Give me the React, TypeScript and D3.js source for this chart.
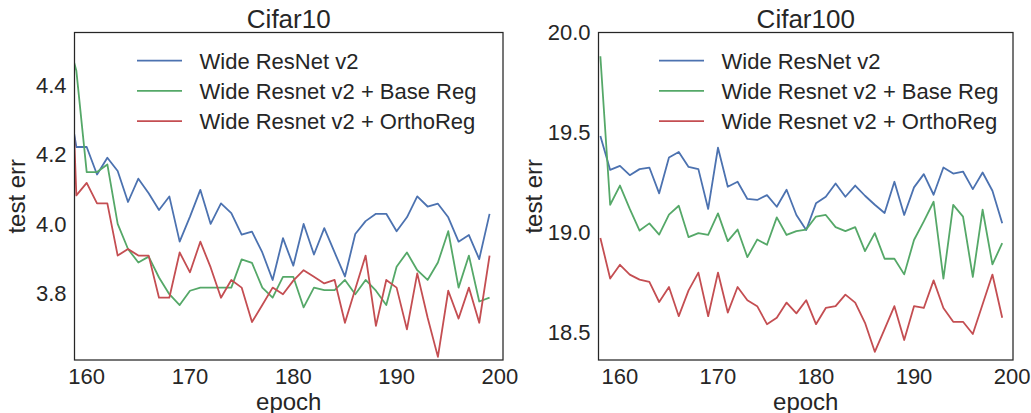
import React from 'react';
import * as d3 from 'd3';

// ---------- data ----------
const EPOCHS = [158, 159, 160, 161, 162, 163, 164, 165, 166, 167, 168, 169, 170, 171, 172, 173, 174, 175, 176, 177, 178, 179,
  180, 181, 182, 183, 184, 185, 186, 187, 188, 189, 190, 191, 192, 193, 194, 195, 196, 197, 198, 199];

const SERIES_NAMES = ['Wide ResNet v2', 'Wide Resnet v2 + Base Reg', 'Wide Resnet v2 + OrthoReg'];
const SERIES_COLORS = ['#4C72B0', '#55A868', '#C44E52'];

const C10_WRN = [4.40, 4.221, 4.221, 4.142, 4.190, 4.152, 4.063, 4.130, 4.088, 4.040, 4.079, 3.949, 4.021, 4.098, 4.000, 4.059,
  4.031, 3.969, 3.978, 3.918, 3.839, 3.959, 3.880, 4.000, 3.912, 3.988, 3.918, 3.849, 3.971, 4.008, 4.029, 4.029, 3.979, 4.019,
  4.079, 4.050, 4.058, 4.019, 3.949, 3.968, 3.899, 4.029];
const C10_BASE = [4.55, 4.44, 4.149, 4.149, 4.171, 4.000, 3.928, 3.889, 3.906, 3.846, 3.798, 3.767, 3.808, 3.817, 3.817, 3.817,
  3.817, 3.898, 3.888, 3.817, 3.788, 3.848, 3.848, 3.760, 3.817, 3.810, 3.810, 3.839, 3.798, 3.839, 3.808, 3.767, 3.877, 3.918,
  3.867, 3.839, 3.889, 3.979, 3.817, 3.909, 3.777, 3.788];
const C10_ORTHO = [4.88, 4.082, 4.118, 4.059, 4.059, 3.909, 3.928, 3.909, 3.909, 3.788, 3.788, 3.918, 3.861, 3.949, 3.875, 3.788,
  3.839, 3.817, 3.718, 3.767, 3.817, 3.798, 3.837, 3.867, 3.848, 3.829, 3.839, 3.716, 3.813, 3.909, 3.707, 3.839, 3.817, 3.697,
  3.858, 3.731, 3.618, 3.808, 3.728, 3.817, 3.716, 3.909];

const C100_WRN = [19.483, 19.313, 19.333, 19.287, 19.317, 19.325, 19.196, 19.375, 19.403, 19.328, 19.317, 19.118, 19.424, 19.229,
  19.254, 19.168, 19.163, 19.187, 19.129, 19.214, 19.088, 19.013, 19.146, 19.179, 19.245, 19.179, 19.235, 19.184, 19.139, 19.098,
  19.254, 19.088, 19.226, 19.292, 19.189, 19.325, 19.295, 19.305, 19.217, 19.300, 19.209, 19.046];
const C100_BASE = [19.881, 19.139, 19.235, 19.118, 19.010, 19.046, 18.990, 19.090, 19.134, 18.977, 18.997, 18.988, 19.096, 18.957,
  19.015, 18.877, 18.965, 18.939, 19.076, 18.988, 19.007, 19.015, 19.080, 19.088, 19.027, 19.007, 19.027, 18.907, 18.997, 18.869,
  18.869, 18.791, 18.963, 19.056, 19.154, 18.770, 19.138, 19.080, 18.778, 19.114, 18.841, 18.947];
const C100_ORTHO = [18.973, 18.770, 18.839, 18.790, 18.765, 18.753, 18.653, 18.728, 18.582, 18.711, 18.800, 18.582, 18.800, 18.600,
  18.728, 18.662, 18.632, 18.542, 18.574, 18.650, 18.596, 18.662, 18.542, 18.623, 18.632, 18.690, 18.650, 18.549, 18.404, 18.517,
  18.632, 18.463, 18.632, 18.623, 18.761, 18.623, 18.554, 18.554, 18.493, 18.642, 18.790, 18.574];

const X_TICKS = [160, 170, 180, 190, 200];
const C10_Y_TICKS = [3.8, 4.0, 4.2, 4.4];
const C100_Y_TICKS = [18.5, 19.0, 19.5, 20.0];

const TITLES = ['Cifar10', 'Cifar100'];
const X_LABEL = 'epoch';
const Y_LABEL = 'test err';

// ---------- styling ----------
const FONT = '"Liberation Sans", Arial, sans-serif';
const TEXT = '#262626';

type PanelProps = {
  id: string;
  left: number; right: number; top: number; bottom: number;
  xDomain: [number, number]; yDomain: [number, number];
  yTicks: number[];
  title: string;
  series: number[][];
  legendOffset: number;
  yLabelX: number;
};

function Panel(p: PanelProps) {
  const x = d3.scaleLinear().domain(p.xDomain).range([p.left, p.right]);
  const y = d3.scaleLinear().domain(p.yDomain).range([p.bottom, p.top]);
  const fmt = d3.format('.1f');
  const cx = (p.left + p.right) / 2;
  const cy = (p.top + p.bottom) / 2;
  return (
    <g>
      <defs>
        <clipPath id={p.id}>
          <rect x={p.left} y={p.top} width={p.right - p.left} height={p.bottom - p.top} />
        </clipPath>
      </defs>
      <g clipPath={`url(#${p.id})`}>
        {p.series.map((vals, i) => {
          const line = d3.line<number>().x((_, j) => x(EPOCHS[j])).y((v) => y(v));
          return <path key={i} d={line(vals) || ''} fill="none" stroke={SERIES_COLORS[i]} strokeWidth={1.8} strokeLinejoin="round" />;
        })}
      </g>
      <rect x={p.left} y={p.top} width={p.right - p.left} height={p.bottom - p.top} fill="none" stroke={TEXT} strokeWidth={1.25} />
      {X_TICKS.map((t) => (
        <text key={t} x={x(t)} y={p.bottom + 23.5} textAnchor="middle" fontSize={22} fill={TEXT} fontFamily={FONT}>{t}</text>
      ))}
      {p.yTicks.map((t) => (
        <text key={t} x={p.left - 8} y={y(t) + 7.9} textAnchor="end" fontSize={22} fill={TEXT} fontFamily={FONT}>{fmt(t)}</text>
      ))}
      <text x={cx} y={p.top - 4.2} textAnchor="middle" fontSize={26} fill={TEXT} fontFamily={FONT}>{p.title}</text>
      <text x={cx} y={410} textAnchor="middle" fontSize={24} fill={TEXT} fontFamily={FONT}>{X_LABEL}</text>
      <text transform={`translate(${p.yLabelX},${cy}) rotate(-90)`} textAnchor="middle" fontSize={24} fill={TEXT} fontFamily={FONT}>{Y_LABEL}</text>
      {SERIES_NAMES.map((name, i) => {
        const ly = 60.7 + i * 30.2;
        const lx = p.left + p.legendOffset;
        return (
          <g key={name}>
            <line x1={lx} x2={lx + 45} y1={ly} y2={ly} stroke={SERIES_COLORS[i]} strokeWidth={1.8} />
            <text x={lx + 62.5} y={ly + 7.9} fontSize={22} fill={TEXT} fontFamily={FONT}>{name}</text>
          </g>
        );
      })}
    </g>
  );
}

export default function App() {
  return (
    <svg width={1031} height={413} style={{ position: 'absolute', left: 0, top: 0, display: 'block', background: '#fff' }}>
      <rect x={0} y={0} width={1031} height={413} fill="#fff" />
      <Panel id="c10clip" left={74.5} right={503} top={32.5} bottom={360}
        xDomain={[158.82, 200.3]} yDomain={[3.609, 4.55]} yTicks={C10_Y_TICKS}
        title={TITLES[0]} series={[C10_WRN, C10_BASE, C10_ORTHO]} legendOffset={62.5} yLabelX={25} />
      <Panel id="c100clip" left={598.5} right={1013} top={32.5} bottom={360}
        xDomain={[157.81, 200.1]} yDomain={[18.363, 20.0]} yTicks={C100_Y_TICKS}
        title={TITLES[1]} series={[C100_WRN, C100_BASE, C100_ORTHO]} legendOffset={60.5} yLabelX={541.5} />
    </svg>
  );
}
